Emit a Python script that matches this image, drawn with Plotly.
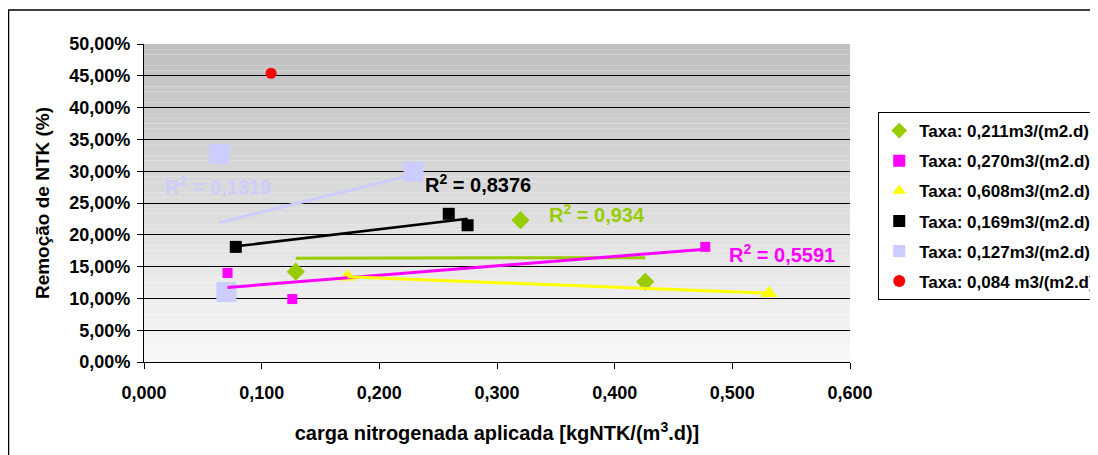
import numpy as np
import plotly.graph_objects as go

# carga nitrogenada aplicada [kgNTK/(m3.d)] vs remocao de NTK (fraction)
x_211 = [0.129, 0.320, 0.426]
y_211 = [0.142, 0.223, 0.126]
x_270 = [0.071, 0.126, 0.477]
y_270 = [0.140, 0.099, 0.181]
x_608 = [0.173, 0.531]
y_608 = [0.134, 0.108]
x_169 = [0.078, 0.259, 0.275]
y_169 = [0.181, 0.233, 0.215]
x_127 = [0.064, 0.229, 0.070]
y_127 = [0.327, 0.299, 0.110]
x_084 = [0.108]
y_084 = [0.454]

names = ["Taxa: 0,211m3/(m2.d)", "Taxa: 0,270m3/(m2.d)", "Taxa: 0,608m3/(m2.d)",
         "Taxa: 0,169m3/(m2.d)", "Taxa: 0,127m3/(m2.d)", "Taxa: 0,084 m3/(m2.d)"]
r2_labels = ["0,934", "0,5591", None, "0,8376", "0,1319", None]

series = [
    (x_211, y_211, "#99CC00", "diamond", 14),
    (x_270, y_270, "#FF00FF", "square", 10),
    (x_608, y_608, "#FFFF00", "triangle-up", 15),
    (x_169, y_169, "#000000", "square", 12),
    (x_127, y_127, "#CCCCFF", "square", 20),
    (x_084, y_084, "#FF0000", "circle", 11),
]

fig = go.Figure()

# markers
for i, (xs, ys, col, sym, sz) in enumerate(series):
    fig.add_trace(go.Scatter(
        x=xs, y=ys, mode="markers", name=names[i],
        legendgroup=str(i),
        marker=dict(color=col, symbol=sym, size=sz, line=dict(width=0)),
    ))

# linear trendlines (least squares, like the spreadsheet)
for i, (xs, ys, col, sym, sz) in enumerate(series):
    if len(xs) < 2:
        continue
    a, b = np.polyfit(xs, ys, 1)
    xl = [min(xs), max(xs)]
    fig.add_trace(go.Scatter(
        x=xl, y=[a * v + b for v in xl], mode="lines", showlegend=False,
        line=dict(color=col, width=3 if col != "#000000" else 2.5),
        hoverinfo="skip",
    ))

# gradient background of plot area
n = 60
for k in range(n):
    t = k / (n - 1)
    g = int(round(248 - (248 - 192) * t))
    fig.add_shape(type="rect", xref="x domain", yref="y domain",
                  x0=0, x1=1, y0=k / n, y1=(k + 1) / n,
                  fillcolor=f"rgb({g},{g},{g})", line=dict(width=0), layer="below")

# outer border
fig.add_shape(type="rect", xref="paper", yref="paper",
              x0=-0.1919, x1=1.6, y0=-0.6, y1=1.107,
              line=dict(color="black", width=1.5), fillcolor="rgba(0,0,0,0)")

# R2 labels
r2_pos = {0: (0.3425, 0.234), 1: (0.4954, 0.171), 3: (0.237, 0.280), 4: (0.016, 0.278)}
for i, (xa, ya) in r2_pos.items():
    fig.add_annotation(x=xa, y=ya, xref="x", yref="y", xanchor="left", yanchor="middle",
                       text=f"R<sup>2</sup> = {r2_labels[i]}", showarrow=False,
                       font=dict(family="Liberation Sans", size=20, color=series[i][2], weight="bold"))

fig.update_layout(
    width=1098, height=455,
    margin=dict(l=136, r=256, t=36, b=101, autoexpand=False),
    paper_bgcolor="white", plot_bgcolor="white",
    separators=",.",
    font=dict(family="Liberation Sans", color="black"),
    legend=dict(x=1.040, y=0.786, xanchor="left", yanchor="top",
                bordercolor="black", borderwidth=1, bgcolor="white",
                font=dict(size=17, weight="bold"),
                traceorder="grouped", tracegroupgap=5, itemsizing="constant",
                itemwidth=30),
    xaxis=dict(range=[0, 0.6], dtick=0.1, tickformat=".3f", showgrid=False,
               zeroline=False, showline=True, linecolor="black", linewidth=1,
               ticks="outside", ticklen=6, tickcolor="black", ticklabelstandoff=8,
               tickfont=dict(size=18, weight="bold"),
               title=dict(text="carga nitrogenada aplicada [kgNTK/(m<sup>3</sup>.d)]",
                          font=dict(size=20, weight="bold"), standoff=24)),
    yaxis=dict(range=[0, 0.5], dtick=0.05, tickformat=".2%", showgrid=True,
               gridcolor="black", gridwidth=1, zeroline=False,
               showline=True, linecolor="black", linewidth=1,
               ticks="outside", ticklen=6, tickcolor="black", ticklabelstandoff=3,
               tickfont=dict(size=18, weight="bold"),
               title=dict(text="Remoção de NTK (%)", font=dict(size=19, weight="bold"),
                          standoff=14)),
)

fig.write_html("out.html")
